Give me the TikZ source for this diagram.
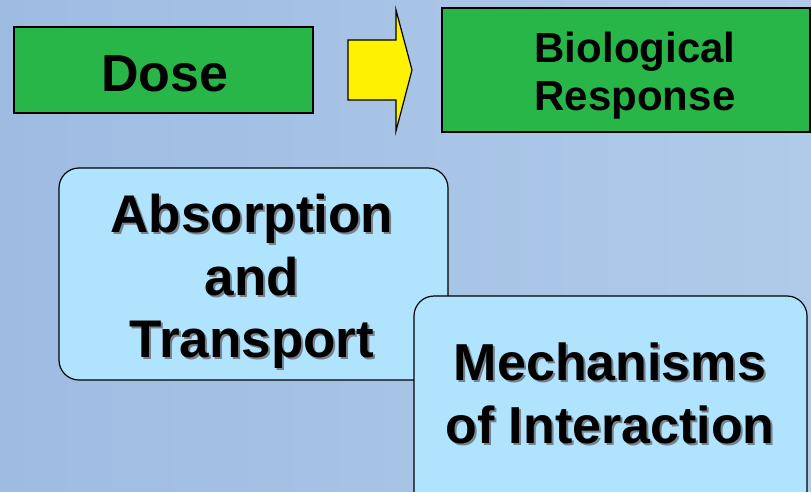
\documentclass[tikz,border=0pt]{standalone}
\usepackage{fontspec}
\setmainfont{Liberation Sans}
\usetikzlibrary{calc}
\definecolor{bgA}{RGB}{158,188,226}
\definecolor{bgB}{RGB}{176,202,233}
\definecolor{boxgreen}{RGB}{40,182,72}
\definecolor{boxblue}{RGB}{176,228,254}
\definecolor{shadowgray}{RGB}{120,130,140}
\tikzset{
  greenbox/.style={draw=black, line width=1.4pt, fill=boxgreen},
  bluebox/.style={draw=black, line width=1.2pt, fill=boxblue, rounded corners=20pt},
  txt/.style={inner sep=0pt, anchor=base, font=\bfseries\fontsize{53}{62}\selectfont},
  txtmech/.style={inner sep=0pt, anchor=base, font=\bfseries\fontsize{52}{62}\selectfont},
  txtsmall/.style={inner sep=0pt, anchor=base, font=\bfseries\fontsize{42}{48}\selectfont},
}
\newcommand{\shd}[1]{\makebox[0pt][l]{\hspace{2pt}\raisebox{-2pt}{\textcolor{shadowgray}{#1}}}#1}
\begin{document}
\begin{tikzpicture}[x=1pt, y=-1pt]
\useasboundingbox (0,0) rectangle (811,491);
\shade[left color=bgA, right color=bgB] (0,0) rectangle (811,491);

% top row
\node[greenbox, minimum width=299pt, minimum height=86pt, inner sep=0pt] (dose) at (163.5,70) {};
\node[inner sep=0pt, anchor=base, font=\bfseries\fontsize{52}{60}\selectfont] (dosetext) at (165,91) {Dose};

\draw[line width=1.2pt, fill=yellow, line join=miter]
  (348,40) -- (396,40) -- (396,10) -- (412,70) -- (396,131) -- (396,100) -- (348,100) -- cycle;

\node[greenbox, minimum width=368pt, minimum height=124pt, inner sep=0pt] (bio) at (626,70) {};
\node[txtsmall] (biotext1) at (635,62) {Biological};
\node[txtsmall] (biotext2) at (635,110) {Response};

% blue boxes
\draw[bluebox] (59,168) rectangle (448,380);
\node[txt] (abs1) at (252,232) {\shd{Absorption}};
\node[txt] (abs2) at (252,295) {\shd{and}};
\node[txt] (abs3) at (252,357) {\shd{Transport}};

\draw[bluebox] (414,296) rectangle (807,520);
\node[txtmech] (mech1) at (610,380) {\shd{Mechanisms}};
\node[txtmech] (mech2) at (610,443) {\shd{of Interaction}};
\end{tikzpicture}
\end{document}
